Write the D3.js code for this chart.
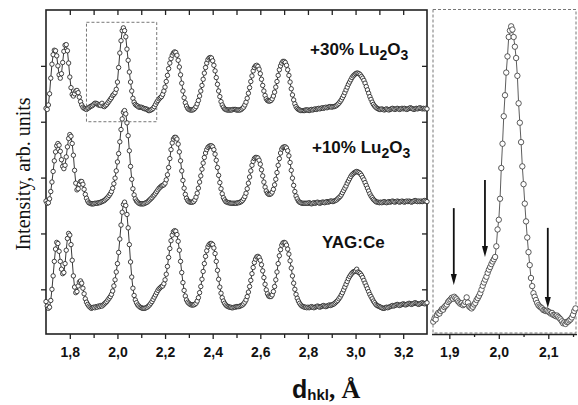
<!DOCTYPE html>
<html>
<head>
<meta charset="utf-8">
<script src="https://cdn.jsdelivr.net/npm/d3@7"></script>
<style>
body { margin: 0; background: #fff; }
svg { display: block; }
</style>
</head>
<body>
<script>
var width = 578;
var height = 405;

// measurement grid (d spacing, Angstrom)
var dStart = 1.70, dStep = 0.005;
var zoomStart = 1.8675, zoomStep = 0.0025;

// +30% Lu2O3 pattern (shifted for display)
var lu30 = [
  424, 422, 430, 450, 478, 503, 520, 528, 527, 518, 500, 484, 478, 486, 506, 526, 537, 538, 527, 505,
  480, 461, 449, 446, 450, 455, 456, 452, 444, 436, 430, 426, 424, 423, 422, 424, 425, 427, 428, 429,
  431, 433, 433, 432, 430, 430, 429, 433, 428, 427, 429, 431, 434, 437, 440, 443, 447, 449, 452, 458,
  471, 497, 523, 545, 563, 568, 563, 552, 530, 510, 489, 471, 455, 442, 435, 431, 429, 428, 426, 426,
  426, 425, 424, 423, 423, 422, 420, 420, 421, 422, 424, 427, 431, 435, 438, 441, 443, 445, 449, 455,
  462, 472, 483, 495, 505, 513, 519, 523, 525, 524, 519, 510, 498, 484, 469, 455, 443, 434, 428, 424,
  422, 421, 421, 421, 422, 424, 427, 432, 438, 446, 455, 465, 476, 487, 497, 505, 511, 514, 515, 514,
  509, 501, 491, 479, 467, 455, 445, 436, 430, 426, 423, 422, 421, 421, 421, 421, 421, 422, 422, 422,
  421, 421, 421, 421, 422, 424, 426, 430, 435, 442, 451, 461, 472, 482, 491, 497, 500, 501, 499, 494,
  486, 476, 465, 455, 447, 441, 438, 437, 437, 438, 441, 446, 453, 462, 472, 483, 493, 500, 505, 508,
  508, 506, 501, 493, 483, 471, 459, 448, 439, 432, 427, 424, 422, 421, 420, 420, 420, 420, 421, 421,
  421, 420, 421, 422, 421, 422, 423, 422, 423, 424, 423, 424, 425, 424, 425, 426, 425, 426, 427, 427,
  426, 427, 427, 428, 429, 431, 433, 436, 439, 443, 447, 452, 457, 462, 467, 471, 475, 479, 482, 484,
  486, 487, 487, 486, 484, 481, 478, 474, 469, 463, 457, 451, 445, 440, 435, 431, 428, 426, 424, 423,
  422, 422, 423, 422, 421, 422, 423, 422, 421, 422, 423, 424, 423, 422, 423, 424, 423, 422, 423, 424,
  423, 424, 423, 422, 423, 424, 425, 424, 423, 422, 423, 424, 423, 424, 425, 424, 423, 424, 423, 424,
  423
];

// +10% Lu2O3 pattern
var lu10 = [
  258, 254, 255, 262, 275, 292, 311, 330, 346, 357, 361, 358, 347, 332, 320, 316, 322, 337, 355, 370,
  377, 374, 361, 340, 313, 290, 278, 280, 288, 293, 293, 288, 279, 270, 263, 258, 255, 254, 253, 253,
  253, 254, 254, 254, 255, 255, 256, 257, 258, 259, 261, 263, 265, 268, 271, 275, 281, 289, 299, 312,
  328, 343, 364, 386, 405, 417, 420, 414, 398, 375, 348, 320, 297, 280, 269, 262, 258, 256, 254, 253,
  253, 253, 253, 254, 255, 256, 258, 260, 262, 264, 267, 269, 272, 275, 278, 281, 283, 285, 286, 287,
  290, 296, 305, 318, 334, 350, 362, 369, 372, 372, 369, 360, 346, 330, 312, 295, 281, 270, 263, 259,
  257, 256, 256, 256, 257, 260, 265, 272, 281, 292, 303, 315, 326, 336, 344, 350, 354, 356, 357, 357,
  355, 350, 342, 331, 318, 304, 291, 280, 271, 264, 260, 257, 256, 255, 255, 254, 254, 254, 254, 254,
  254, 255, 255, 256, 257, 259, 262, 266, 272, 280, 290, 301, 312, 322, 329, 334, 336, 336, 335, 331,
  324, 314, 303, 292, 283, 276, 272, 270, 270, 271, 274, 279, 287, 297, 309, 322, 334, 344, 351, 354,
  355, 355, 353, 348, 339, 327, 313, 299, 286, 275, 267, 262, 258, 256, 255, 254, 254, 254, 254, 254,
  254, 255, 254, 253, 254, 255, 254, 255, 256, 255, 254, 255, 256, 256, 255, 256, 257, 256, 257, 258,
  258, 257, 258, 259, 260, 262, 264, 266, 269, 273, 277, 281, 285, 290, 294, 298, 302, 305, 307, 309,
  310, 311, 310, 309, 307, 304, 300, 296, 291, 286, 281, 276, 271, 267, 264, 261, 259, 257, 256, 256,
  255, 256, 255, 256, 257, 256, 255, 256, 257, 256, 257, 258, 257, 256, 257, 258, 257, 256, 257, 258,
  257, 256, 257, 258, 257, 258, 257, 256, 257, 258, 259, 258, 257, 258, 257, 258, 257, 258, 259, 258,
  257
];

// YAG:Ce pattern
var yagCe = [
  78, 70, 66, 68, 80, 100, 124, 150, 172, 184, 182, 168, 150, 136, 128, 130, 146, 170, 191, 200,
  197, 180, 152, 124, 104, 94, 96, 106, 113, 115, 111, 102, 92, 83, 77, 73, 70, 68, 66, 67,
  68, 67, 69, 68, 70, 69, 71, 70, 72, 74, 76, 78, 81, 84, 87, 91, 97, 106, 117, 131,
  146, 166, 190, 215, 238, 252, 256, 250, 234, 210, 180, 149, 122, 102, 89, 81, 76, 72, 70, 68,
  67, 66, 66, 66, 67, 68, 70, 72, 75, 78, 82, 86, 90, 94, 98, 101, 103, 105, 106, 110,
  117, 127, 141, 157, 173, 187, 197, 203, 205, 204, 198, 186, 170, 150, 130, 112, 98, 88, 81, 77,
  75, 73, 72, 72, 72, 73, 75, 79, 85, 94, 105, 118, 132, 146, 159, 169, 176, 180, 182, 182,
  180, 174, 164, 150, 134, 118, 104, 93, 85, 79, 75, 72, 70, 69, 68, 68, 67, 67, 68, 68,
  69, 69, 69, 70, 71, 72, 74, 77, 81, 87, 95, 105, 116, 128, 139, 148, 154, 158, 159, 157,
  152, 144, 133, 121, 109, 99, 92, 88, 87, 87, 90, 96, 105, 117, 131, 146, 160, 171, 179, 183,
  184, 183, 179, 172, 163, 151, 138, 124, 111, 100, 91, 84, 79, 75, 72, 70, 69, 68, 68, 67,
  68, 67, 68, 69, 68, 67, 68, 69, 70, 69, 68, 69, 70, 71, 70, 69, 70, 71, 72, 71,
  72, 73, 74, 76, 78, 80, 83, 86, 90, 94, 99, 104, 109, 114, 119, 123, 126, 129, 131, 132,
  133, 136, 131, 130, 128, 125, 121, 116, 111, 106, 101, 96, 91, 87, 83, 79, 76, 73, 71, 70,
  69, 68, 67, 66, 66, 67, 68, 67, 68, 69, 70, 71, 70, 71, 72, 73, 72, 71, 72, 73,
  74, 73, 72, 73, 74, 75, 74, 73, 74, 75, 76, 75, 74, 73, 74, 75, 76, 75, 74, 75,
  76
];

// +30% Lu2O3, fine scan around the strongest peak, inset
var lu30Zoom = [
  3.5, 4.5, 4.2, 5.6, 6.2, 6.0, 6.8, 7.4, 7.2, 8.0, 8.4, 8.8, 9.6,
  10.0, 10.4, 10.9, 10.6, 11.2, 10.8, 10.4, 9.8, 9.4, 9.0,
  9.2, 8.6, 8.9, 9.6, 11.0, 9.4, 8.2, 7.9, 7.6, 8.1,
  8.8, 9.3, 10.2, 10.8, 11.5, 12.3, 13.4, 14.6, 15.6, 16.5,
  17.4, 18.6, 19.6, 20.4, 21.3, 22.1, 22.8, 23.5, 26.8, 32.0,
  35.0, 41.5, 51.0, 58.5, 67.0, 73.5, 80.5, 85.5, 91.5, 93.5,
  94.8, 93.8, 91.5, 88.5, 85.0, 79.5, 71.0, 65.0, 59.0, 51.5,
  46.0, 40.0, 34.5, 29.5, 25.0, 21.0, 17.0, 14.5, 12.3, 11.2,
  10.2, 9.3, 8.6, 8.2, 7.9, 7.6, 7.1, 7.0, 6.8, 6.9,
  6.6, 6.4, 6.0, 6.2, 5.6, 5.5, 5.2, 5.4, 5.0, 4.6,
  4.2, 3.6, 3.0, 3.3, 2.8, 3.4, 3.5, 3.9, 4.2, 4.8,
  5.6, 6.8, 7.6
];

var seriesLabels = ["+30% Lu_2O_3", "+10% Lu_2O_3", "YAG:Ce"];
var labelAt = [[2.809, 520], [2.817, 344], [2.859, 174]];

var majorTicks = [1.8, 2.0, 2.2, 2.4, 2.6, 2.8, 3.0, 3.2];
var minorTicks = [1.9, 2.1, 2.3, 2.5, 2.7, 2.9, 3.1];
var yTicks = [100, 200, 300, 400, 500];
var zoomMajor = [1.9, 2.0, 2.1];
var zoomMinor = [1.95, 2.05, 2.15];

var zoomBoxD = [1.87, 2.165];
var zoomBoxY = [400, 578];

var arrowsAt = [1.909, 1.972, 2.099];
var arrowFrom = [38.6, 47.3, 32.5];
var arrowTo = [14.8, 23.5, 7.7];

var fmt = d3.formatLocale({decimal: ",", thousands: " ", grouping: [3], currency: ["", ""]}).format(".1f");

var svg = d3.select("body").append("svg")
    .attr("width", width)
    .attr("height", height);

var x = d3.scaleLinear().domain([1.7, 3.3]).range([46, 427]);
var y = d3.scaleLinear().domain([20, 600]).range([334, 10]);

var xi = d3.scaleLinear().domain([1.867, 2.156]).range([433, 576]);
var yi = d3.scaleLinear().domain([0, 100]).range([333, 9.5]);

function styleAxis(g) {
    g.select(".domain").remove();
    g.selectAll(".tick line").attr("stroke", "#222").attr("stroke-width", 1.3);
    g.selectAll("text")
        .attr("font-family", "Arial, 'Liberation Sans', sans-serif")
        .attr("font-weight", "bold")
        .attr("font-size", 14)
        .attr("fill", "#111");
}

// bottom axis
svg.append("g").attr("transform", "translate(0,334)")
    .call(d3.axisBottom(x).tickValues(minorTicks).tickSize(4).tickFormat(""))
    .call(styleAxis);
svg.append("g").attr("transform", "translate(0,334)")
    .call(d3.axisBottom(x).tickValues(majorTicks).tickSize(5).tickPadding(8).tickFormat(fmt))
    .call(styleAxis);

// top axis, ticks inside
svg.append("g").attr("transform", "translate(0,10)")
    .call(d3.axisTop(x).tickValues(majorTicks.concat(minorTicks)).tickSize(-5).tickFormat(""))
    .call(styleAxis);

// left and right
svg.append("g").attr("transform", "translate(46,0)")
    .call(d3.axisLeft(y).tickValues(yTicks).tickSize(5).tickFormat(""))
    .call(styleAxis);
svg.append("g").attr("transform", "translate(427,0)")
    .call(d3.axisRight(y).tickValues(yTicks).tickSize(-5).tickFormat(""))
    .call(styleAxis);

svg.append("rect")
    .attr("x", x(1.7)).attr("y", y(600))
    .attr("width", x(3.3) - x(1.7)).attr("height", y(20) - y(600))
    .attr("fill", "none").attr("stroke", "#222").attr("stroke-width", 1.6);

// patterns
var line = d3.line()
    .x(function (d) { return x(d[0]); })
    .y(function (d) { return y(d[1]); });

[lu30, lu10, yagCe].forEach(function (vals) {
    var pts = vals.map(function (v, i) { return [dStart + i * dStep, v]; });
    var g = svg.append("g");
    g.append("path").datum(pts)
        .attr("d", line)
        .attr("fill", "none").attr("stroke", "#222").attr("stroke-width", 0.9);
    g.selectAll("circle").data(pts).enter().append("circle")
        .attr("cx", function (d) { return x(d[0]); })
        .attr("cy", function (d) { return y(d[1]); })
        .attr("r", 2.2)
        .attr("fill", "#fff").attr("stroke", "#222").attr("stroke-width", 0.85);
});

// zoomed region marker
svg.append("rect")
    .attr("x", x(zoomBoxD[0])).attr("y", y(zoomBoxY[1]))
    .attr("width", x(zoomBoxD[1]) - x(zoomBoxD[0]))
    .attr("height", y(zoomBoxY[0]) - y(zoomBoxY[1]))
    .attr("fill", "none").attr("stroke", "#777")
    .attr("stroke-width", 1).attr("stroke-dasharray", "3,2");

// series labels
seriesLabels.forEach(function (s, k) {
    var t = svg.append("text")
        .attr("x", x(labelAt[k][0])).attr("y", y(labelAt[k][1]))
        .attr("font-family", "Arial, 'Liberation Sans', sans-serif")
        .attr("font-weight", "bold").attr("font-size", 17).attr("fill", "#111");
    s.split("_").forEach(function (part, j) {
        if (j === 0) { t.append("tspan").text(part); return; }
        t.append("tspan").attr("font-size", 14).attr("dy", 5).text(part[0]);
        if (part.length > 1) t.append("tspan").attr("dy", -5).text(part.slice(1));
    });
});

// y label
svg.append("text")
    .attr("transform", "rotate(-90)")
    .attr("x", -174).attr("y", 30)
    .attr("text-anchor", "middle")
    .attr("font-family", "'Times New Roman', 'Liberation Serif', serif")
    .attr("font-size", 20).attr("fill", "#111")
    .text("Intensity, arb. units");

// x label
var xl = svg.append("text").attr("x", 292).attr("y", 398).attr("fill", "#111")
    .attr("font-weight", "bold");
xl.append("tspan").attr("font-family", "Arial, 'Liberation Sans', sans-serif")
    .attr("font-size", 25).text("d");
xl.append("tspan").attr("font-family", "Arial, 'Liberation Sans', sans-serif")
    .attr("font-size", 15).attr("dy", 2).text("hkl");
xl.append("tspan").attr("font-family", "'Times New Roman', 'Liberation Serif', serif")
    .attr("font-size", 25).attr("dy", -2).text(", ");
xl.append("tspan").attr("font-family", "'Times New Roman', 'Liberation Serif', serif")
    .attr("font-size", 26).text("Å");

// inset
var inset = svg.append("g");
inset.append("rect")
    .attr("x", xi.range()[0]).attr("y", yi.range()[1])
    .attr("width", xi.range()[1] - xi.range()[0])
    .attr("height", yi.range()[0] - yi.range()[1])
    .attr("fill", "#fff").attr("stroke", "#777")
    .attr("stroke-width", 1).attr("stroke-dasharray", "3,2");

inset.append("line")
    .attr("x1", 432).attr("x2", 577).attr("y1", 334.5).attr("y2", 334.5)
    .attr("stroke", "#222").attr("stroke-width", 1.3);
inset.append("g").attr("transform", "translate(0,334)")
    .call(d3.axisBottom(xi).tickValues(zoomMinor).tickSize(3).tickFormat(""))
    .call(styleAxis);
inset.append("g").attr("transform", "translate(0,334)")
    .call(d3.axisBottom(xi).tickValues(zoomMajor).tickSize(5).tickPadding(8).tickFormat(fmt))
    .call(styleAxis);

var zpts = lu30Zoom.map(function (v, i) { return [zoomStart + i * zoomStep, v]; });
inset.append("path").datum(zpts)
    .attr("d", d3.line().x(function (d) { return xi(d[0]); }).y(function (d) { return yi(d[1]); }))
    .attr("fill", "none").attr("stroke", "#333").attr("stroke-width", 0.8);
inset.selectAll("circle.z").data(zpts).enter().append("circle")
    .attr("class", "z")
    .attr("cx", function (d) { return xi(d[0]); })
    .attr("cy", function (d) { return yi(d[1]); })
    .attr("r", 2.7)
    .attr("fill", "#fff").attr("stroke", "#333").attr("stroke-width", 0.8);

arrowsAt.forEach(function (d, k) {
    var ax = xi(d), y0 = yi(arrowFrom[k]), y1 = yi(arrowTo[k]);
    inset.append("line")
        .attr("x1", ax).attr("x2", ax).attr("y1", y0).attr("y2", y1 - 8)
        .attr("stroke", "#111").attr("stroke-width", 1.8);
    inset.append("path")
        .attr("d", "M" + (ax - 3) + "," + (y1 - 11) + "L" + (ax + 3) + "," + (y1 - 11) + "L" + ax + "," + y1 + "Z")
        .attr("fill", "#111");
});
</script>
</body>
</html>
